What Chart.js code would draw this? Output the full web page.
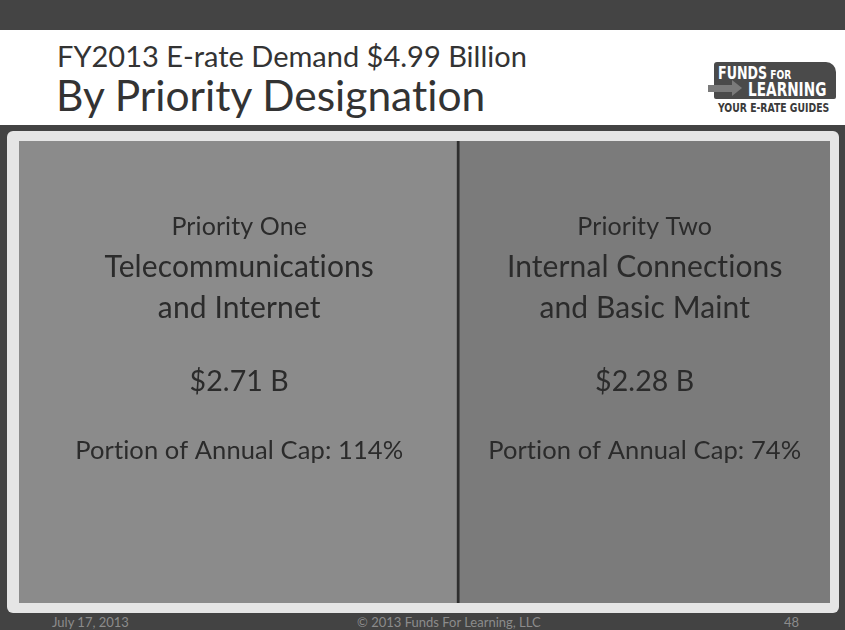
<!DOCTYPE html>
<html>
<head>
<meta charset="utf-8">
<script src="https://cdn.jsdelivr.net/npm/chart.js@4"></script>
<style>
  html, body { margin: 0; padding: 0; }
  body { width: 845px; height: 630px; position: relative; overflow: hidden; background: #434343; font-family: Lato, "Open Sans", sans-serif; font-variant-ligatures: none; }
  #topbar { position: absolute; left: 0; top: 0; width: 845px; height: 30px; background: #444; }
  #header { position: absolute; left: 0; top: 30px; width: 845px; height: 95px; background: #fff; }
  #title1 { position: absolute; left: 57px; top: 8px; font-size: 29px; color: #333; white-space: nowrap; }
  #title2 { position: absolute; left: 56px; top: 39px; font-size: 42.5px; color: #333; white-space: nowrap; }
  #logo { position: absolute; left: 714px; top: 32px; width: 122px; height: 37px; background: #4a4a4a; border-radius: 3px 10px 2px 2px; }
  #arrowbar { position: absolute; left: 708px; top: 55px; width: 24px; height: 7px; background: #7a7a7a; }
  #arrowhead { position: absolute; left: 732px; top: 50px; width: 0; height: 0; border-top: 8px solid transparent; border-bottom: 8px solid transparent; border-left: 10px solid #7a7a7a; }
  .lg { position: absolute; font-family: "DejaVu Sans Condensed", sans-serif; font-weight: bold; white-space: nowrap; transform-origin: left top; }
  #panel { position: absolute; left: 7px; top: 131px; width: 832px; height: 482px; background: #e5e5e5; border-radius: 6px; }
  #chartbox { position: absolute; left: 19px; top: 141px; width: 811px; height: 462px; }
  .foot { position: absolute; top: 614px; font-size: 13px; color: #8c8c8c; white-space: nowrap; }
</style>
</head>
<body>
<div id="topbar"></div>
<div id="header">
  <div id="logo">
    <div class="lg" style="left:4px; top:0px; font-size:18px; color:#fff; transform:scaleX(0.78);">FUNDS<span style="font-size:13px;"> FOR</span></div>
    <div class="lg" style="left:34px; top:16px; font-size:19px; color:#fff; transform:scaleX(0.8);">LEARNING</div>
  </div>
  <div id="arrowbar"></div>
  <div id="arrowhead"></div>
  <div id="title1">FY2013 E-rate Demand $4.99 Billion</div>
  <div id="title2">By Priority Designation</div>
  <div class="lg" style="left:718px; top:71px; font-size:12px; color:#3a3a3a; transform:scaleX(0.86);">YOUR E-RATE GUIDES</div>
</div>
<div id="panel"></div>
<div id="chartbox"><canvas id="chart"></canvas></div>
<div class="foot" style="left:52px;">July 17, 2013</div>
<div class="foot" style="left:357px;">© 2013 Funds For Learning, LLC</div>
<div class="foot" style="left:784px;">48</div>

<script>
// Demand by priority designation, billions of dollars
const categories = ["FY2013"];
const priorities = ["Priority One", "Priority Two"];
const services = [["Telecommunications", "and Internet"], ["Internal Connections", "and Basic Maint"]];
const demand = [2.71, 2.28];
const capPortion = [114, 74];
const cellColors = ["#8b8b8b", "#7b7b7b"];

const total = demand.reduce((a, b) => a + b, 0);

// Write the labels into each cell
const cellLabels = {
  id: 'cellLabels',
  afterDatasetsDraw(chart) {
    const ctx = chart.ctx;
    ctx.save();
    ctx.fillStyle = '#2b2b2b';
    ctx.textAlign = 'center';
    ctx.textBaseline = 'alphabetic';
    ctx.letterSpacing = '0.1px'; // keeps Lato from joining "ti"
    chart.data.datasets.forEach((ds, i) => {
      const bar = chart.getDatasetMeta(i).data[0];
      const cx = (bar.x + bar.base) / 2;
      const top = bar.y - bar.height / 2;
      ctx.font = '25px Lato';
      ctx.fillText(priorities[i], cx, top + 94);
      ctx.font = '30px Lato';
      ctx.fillText(services[i][0], cx, top + 136);
      ctx.fillText(services[i][1], cx, top + 177);
      ctx.font = '28.5px Lato';
      ctx.fillText('$' + demand[i].toFixed(2) + ' B', cx, top + 250);
      ctx.font = '25.5px Lato';
      ctx.fillText('Portion of Annual Cap: ' + capPortion[i] + '%', cx, top + 318);
    });
    ctx.restore();
  }
};

new Chart(document.getElementById('chart'), {
  type: 'bar',
  data: {
    labels: categories,
    datasets: demand.map((v, i) => ({
      label: priorities[i],
      data: [v],
      backgroundColor: cellColors[i],
      borderColor: '#2e2e2e',
      borderWidth: i === 0 ? { top: 0, bottom: 0, left: 0, right: 3 } : 0,
      borderSkipped: false,
      barPercentage: 1,
      categoryPercentage: 1
    }))
  },
  options: {
    indexAxis: 'y',
    responsive: true,
    maintainAspectRatio: false,
    animation: false,
    layout: { padding: 0 },
    plugins: { legend: { display: false }, tooltip: { enabled: false } },
    scales: {
      x: { stacked: true, min: 0, max: total, display: false },
      y: { stacked: true, display: false }
    }
  },
  plugins: [cellLabels]
});
</script>
</body>
</html>
